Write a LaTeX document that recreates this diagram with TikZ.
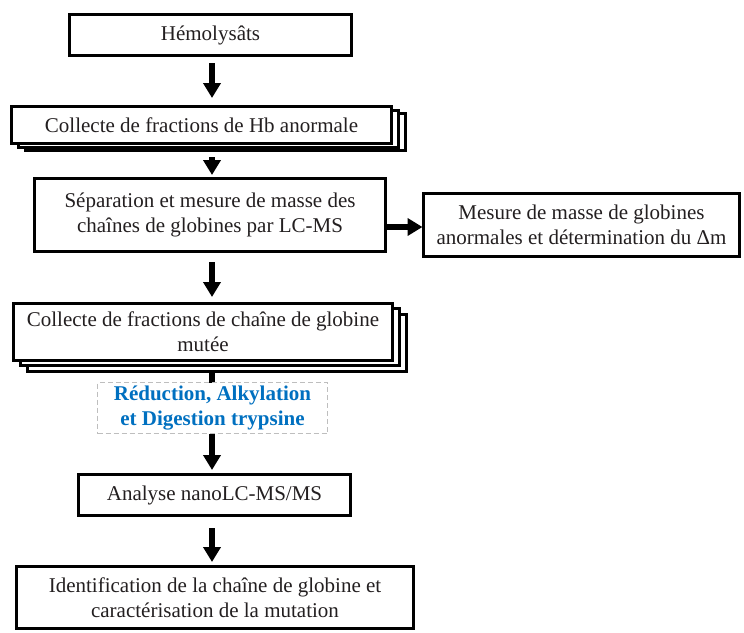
\documentclass[tikz,border=0pt]{standalone}
\usepackage{fontspec}
\setmainfont{Liberation Serif}
\usetikzlibrary{arrows.meta}
\definecolor{txtblue}{RGB}{0,112,192}
\definecolor{dashgray}{RGB}{190,190,190}
\definecolor{txtblack}{RGB}{35,31,32}
\begin{document}
\begin{tikzpicture}[x=1pt,y=-1pt,
  box/.style={draw=black, line width=3pt, fill=white, inner sep=0pt, outer sep=0pt,
    align=center, text=txtblack, font=\fontsize{21}{25}\selectfont},
  flow/.style={line width=6pt, draw=black, -{Triangle[width=17pt,length=15pt]}},
  dashbox/.style={draw=dashgray, line width=1.5pt, dash pattern=on 5pt off 3pt, fill=white,
    inner sep=0pt, outer sep=0pt, align=center, text=txtblue,
    font=\bfseries\fontsize{21}{25}\selectfont},
]
\useasboundingbox (0,0) rectangle (744,632);
\coordinate (ax) at (212,0);
\coordinate (hy) at (0,227);

\node[box, minimum width=282pt, minimum height=41pt] (b1) at (210.5,35) {Hémolysâts};

\node[box, minimum width=380pt, minimum height=37pt] (b2y) at (215.5,132) {};
\node[box, minimum width=380pt, minimum height=37pt] (b2x) at (208.5,129) {};
\node[box, minimum width=380pt, minimum height=37pt] (b2) at (201.5,125) {Collecte de fractions de Hb anormale};

\node[box, minimum width=351pt, minimum height=73pt] (b3) at (210,215) {Séparation et mesure de masse des\\chaînes de globines par LC-MS};

\node[box, minimum width=316pt, minimum height=63pt] (b4) at (581.5,225) {Mesure de masse de globines\\anormales et détermination du Δm};

\node[box, minimum width=379pt, minimum height=57pt] (b5y) at (217,343) {};
\node[box, minimum width=379pt, minimum height=57pt] (b5x) at (210,337) {};
\node[box, minimum width=379pt, minimum height=57pt] (b5) at (203,332) {Collecte de fractions de chaîne de globine\\mutée};

\node[box, minimum width=272pt, minimum height=41pt] (b6) at (214.5,495) {Analyse nanoLC-MS/MS};

\node[box, minimum width=397pt, minimum height=62pt] (b7) at (215,597.5) {Identification de la chaîne de globine et\\caractérisation de la mutation};

\draw[flow, shorten <=7.5pt, shorten >=8.5pt] (b1.south -| ax) -- (b2.north -| ax);
\draw[flow, shorten <=6.5pt, shorten >=3.5pt] (b2y.south -| ax) -- (b3.north -| ax);
\draw[flow, shorten <=10.5pt, shorten >=6.5pt] (b3.south -| ax) -- (b5.north -| ax);
\draw[flow, shorten >=1pt] (b3.east |- hy) -- (b4.west |- hy);
\draw[flow, shorten >=4.5pt] (b5y.south -| ax) -- (b6.north -| ax);
\draw[flow, shorten <=12.5pt, shorten >=4.5pt] (b6.south -| ax) -- (b7.north -| ax);

\node[dashbox, minimum width=230pt, minimum height=51pt] (d1) at (212.5,408) {Réduction, Alkylation\\et Digestion trypsine};
\end{tikzpicture}
\end{document}
